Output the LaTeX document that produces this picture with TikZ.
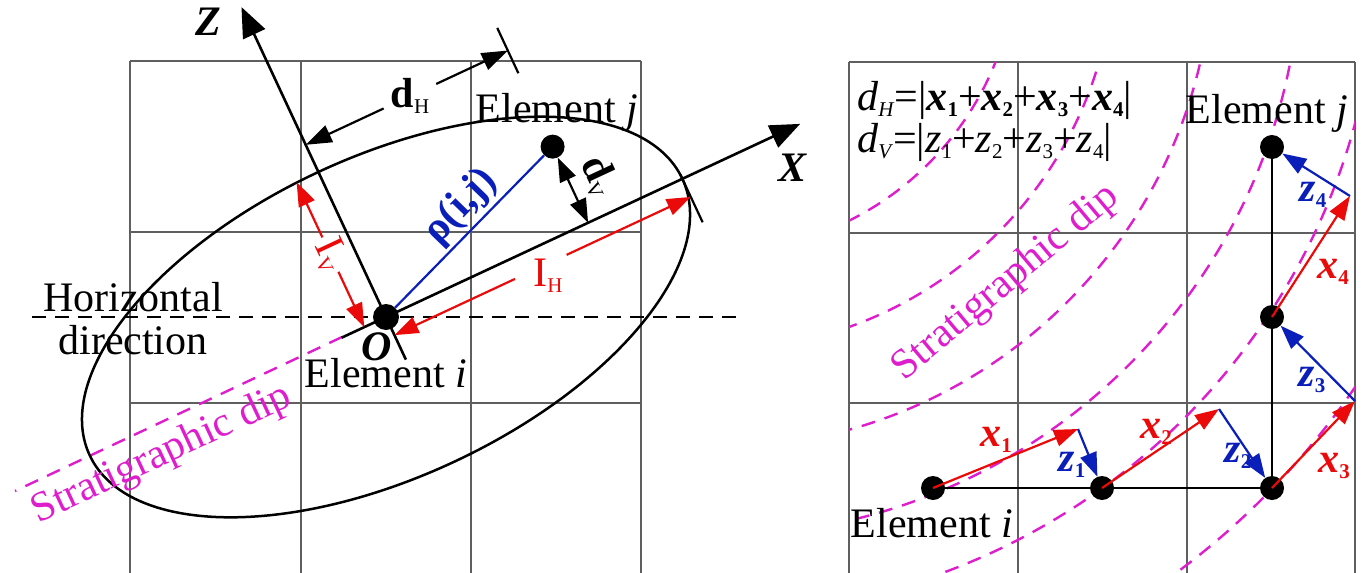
\documentclass[tikz,border=0pt]{standalone}
\usepackage{fontspec}
\setmainfont{Liberation Serif}
\usetikzlibrary{arrows.meta}
\definecolor{dipmag}{RGB}{222,30,205}
\definecolor{gridgray}{RGB}{95,95,95}
\definecolor{vred}{RGB}{235,10,10}
\definecolor{vblue}{RGB}{10,30,185}
\newcommand{\bi}[1]{\textbf{\textit{#1}}}
\newcommand{\lo}[1]{\raisebox{-6pt}{\fontsize{21}{21}\selectfont #1}}
\begin{document}
\begin{tikzpicture}[x=1pt,y=-1pt,
  font=\fontsize{42}{46}\selectfont,
  gridline/.style={draw=gridgray,line width=2pt},
  axisline/.style={line width=2.6pt,-{Triangle[length=30pt,width=24pt]}},
  dimline/.style={line width=2.2pt,-{Triangle[length=26pt,width=18pt]}},
  plainline/.style={line width=2.2pt},
  dotnode/.style={circle,fill=black,inner sep=0pt,minimum size=26pt},
  smalldot/.style={circle,fill=black,inner sep=0pt,minimum size=24pt},
  dipline/.style={draw=dipmag,line width=2.4pt,dash pattern=on 14pt off 10pt},
  redline/.style={draw=vred,line width=2.2pt,-{Triangle[length=24pt,width=17pt]}},
  redvec/.style={draw=vred,line width=2.2pt,-{Triangle[length=24pt,width=17pt]}},
  bluevec/.style={draw=vblue,line width=2.2pt,-{Triangle[length=24pt,width=17pt]}},
  lbl/.style={inner sep=0pt},
]
\useasboundingbox (0,0) rectangle (1369,573);

% ---------------- left panel ----------------
\foreach \gx in {130,301,471,641} \draw[gridline] (\gx,61) -- (\gx,573);
\foreach \gy in {61,232,403} \draw[gridline] (130,\gy) -- (641,\gy);

\coordinate (hA) at (32,317);
\coordinate (hB) at (738,317);
\draw[line width=2.2pt,dash pattern=on 14pt off 9pt] (hA) -- (hB);

\coordinate (dipA) at (342,337);
\coordinate (dipB) at (15,491);
\draw[dipline] (dipA) -- (dipB);

\coordinate (Oc) at (386,317);
\draw[line width=2.5pt,rotate around={25:(Oc)}] (Oc) ellipse [x radius=327pt,y radius=160pt];

\begin{scope}[shift={(386,317)},x={(0.9063pt,0.4226pt)},y={(-0.4226pt,0.9063pt)}]
  \coordinate (Zb) at (0,-47);
  \coordinate (Zt) at (0,342);
  \coordinate (Xb) at (-49,0);
  \coordinate (Xt) at (457,0);
  \coordinate (dHl) at (0,190);
  \coordinate (dHr) at (223,190);
  \coordinate (dHg1) at (86,190);
  \coordinate (dHg2) at (144,190);
  \coordinate (tkA) at (223,165);
  \coordinate (tkB) at (223,215);
  \coordinate (dVf) at (223,0);
  \coordinate (IVb) at (-24,0);
  \coordinate (IVt) at (-24,160);
  \coordinate (IVg1) at (-24,61);
  \coordinate (IVg2) at (-24,99);
  \coordinate (IHl) at (0,-20);
  \coordinate (IHr) at (327,-20);
  \coordinate (IHg1) at (133,-20);
  \coordinate (IHg2) at (190,-20);
  \coordinate (tkC) at (327,5);
  \coordinate (tkD) at (327,-48);
  \node[dotnode] (O) at (0,0) {};
  \node[dotnode,minimum size=24pt] (J) at (223,84) {};

  \draw[axisline] (Zb) -- (Zt);
  \draw[axisline] (Xb) -- (Xt);
  \draw[draw=vblue,line width=2.2pt] (O) -- (J);
  \draw[dimline] (dHg1) -- (dHl);
  \draw[dimline] (dHg2) -- (dHr);
  \draw[plainline] (tkA) -- (tkB);
  \draw[line width=2.2pt,{Triangle[length=24pt,width=17pt]}-{Triangle[length=24pt,width=17pt]}] (J) -- (dVf);
  \draw[redline] (IVg1) -- (IVb);
  \draw[redline] (IVg2) -- (IVt);
  \draw[redline] (IHg1) -- (IHl);
  \draw[redline] (IHg2) -- (IHr);
  \draw[plainline] (tkC) -- (tkD);

  \node[lbl] (dHlab) at (115,190) {\textbf{d}\lo{H}};
  \node[lbl,rotate=-65] (dVlab) at (253,38) {\textbf{d}\lo{V}};
  \node[lbl,rotate=-65,text=vred] (IVlab) at (-24,80) {I\lo{V}};
\end{scope}

\node[lbl,text=vred] (IHlab) at (548,276) {I\lo{H}};
\node[lbl,text=vblue,rotate=46] (rholab) at (461,207) {\textbf{ρ(i,j)}};
\node[lbl] (Zlab) at (208,22) {\bi{Z}};
\node[lbl] (Xlab) at (793,168) {\bi{X}};
\node[lbl] (Olab) at (377,347) {\bi{O}};
\node[lbl] (EjL) at (557,112) {Element \textit{j}};
\node[lbl] (EiL) at (386,373) {Element \textit{i}};
\node[lbl] (hor1) at (133,297) {Horizontal};
\node[lbl] (hor2) at (133,340) {direction};
\node[lbl,text=dipmag,rotate=25] (dipL) at (162,455) {Stratigraphic dip};

% ---------------- right panel ----------------
\foreach \gx in {849,1018,1187,1355} \draw[gridline] (\gx,62) -- (\gx,573);
\foreach \gy in {62,233,403} \draw[gridline] (849,\gy) -- (1355,\gy);
\begin{scope}
  \clip (849,62) rectangle (1355,573);
  \foreach \r in {302,400,498,586,663,775}
    \draw[dipline] (715,-50) circle [radius=\r pt];
\end{scope}

\node[smalldot] (P1) at (933,488) {};
\node[smalldot] (P2) at (1102,488) {};
\node[smalldot] (P3) at (1272,488) {};
\node[smalldot] (P4) at (1272,317) {};
\node[smalldot] (P5) at (1272,147) {};
\coordinate (Q1) at (1078,429);
\coordinate (Q2) at (1219,409);
\coordinate (Q3) at (1355,401);
\coordinate (Q4) at (1350,196);

\draw[plainline] (P1.center) -- (P3.center) -- (P5.center);
\draw[redvec] (P1.center) -- (Q1);
\draw[bluevec] (Q1) -- (P2);
\draw[redvec] (P2.center) -- (Q2);
\draw[bluevec] (Q2) -- (P3);
\draw[redvec] (P3.center) -- (Q3);
\draw[bluevec] (Q3) -- (P4);
\draw[redvec] (P4.center) -- (Q4);
\draw[bluevec] (Q4) -- (P5);

\node[lbl,text=vred] (x1) at (996,440) {\bi{x}\lo{\textbf{1}}};
\node[lbl,text=vblue] (z1) at (1072,465) {\bi{z}\lo{\textbf{1}}};
\node[lbl,text=vred] (x2) at (1156,432) {\bi{x}\lo{\textbf{2}}};
\node[lbl,text=vblue] (z2) at (1238,456) {\bi{z}\lo{\textbf{2}}};
\node[lbl,text=vred] (x3) at (1334,466) {\bi{x}\lo{\textbf{3}}};
\node[lbl,text=vblue] (z3) at (1312,380) {\bi{z}\lo{\textbf{3}}};
\node[lbl,text=vred] (x4) at (1333,272) {\bi{x}\lo{\textbf{4}}};
\node[lbl,text=vblue] (z4) at (1313,195) {\bi{z}\lo{\textbf{4}}};

\node[lbl,anchor=base west] (fH) at (857,110) {\textit{d}\lo{\textit{H}}=|\bi{x}\lo{\textbf{1}}+\bi{x}\lo{\textbf{2}}+\bi{x}\lo{\textbf{3}}+\bi{x}\lo{\textbf{4}}|};
\node[lbl,anchor=base west] (fV) at (857,152) {\textit{d}\lo{\textit{V}}=|\textit{z}\lo{1}+\textit{z}\lo{2}+\textit{z}\lo{3}+\textit{z}\lo{4}|};
\node[lbl] (EjR) at (1267,113) {Element \textit{j}};
\node[lbl] (EiR) at (932,523) {Element \textit{i}};
\node[lbl,text=dipmag,rotate=40] (dipR) at (1006,283) {Stratigraphic dip};
\end{tikzpicture}
\end{document}
